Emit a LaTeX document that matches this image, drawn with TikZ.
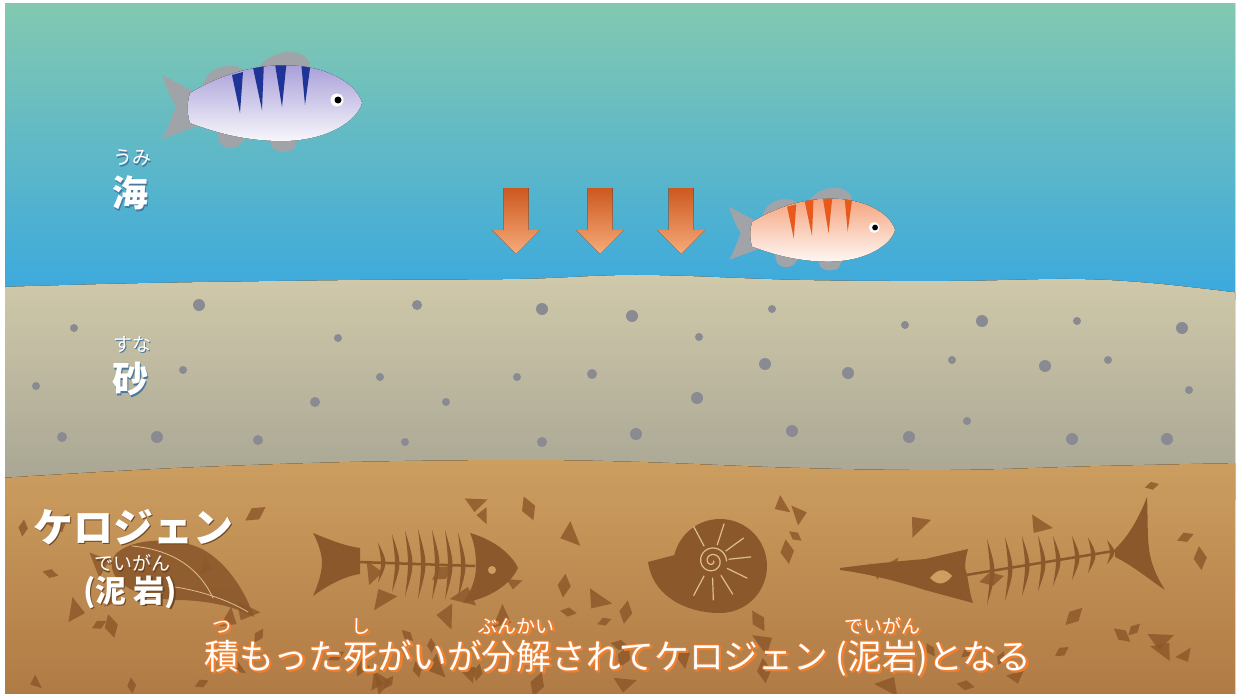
\documentclass[tikz,border=0pt]{standalone}
\usepackage{fontspec}
\newfontfamily\jp{Noto Sans CJK JP}
\usepackage{tikz}

\definecolor{seatop}{RGB}{132,201,176}
\definecolor{seamid}{RGB}{92,182,202}
\definecolor{seabot}{RGB}{58,168,222}
\definecolor{sandtop}{RGB}{208,201,170}
\definecolor{sandbot}{RGB}{165,163,146}
\definecolor{soiltop}{RGB}{204,158,96}
\definecolor{soilbot}{RGB}{176,122,68}
\definecolor{pebble}{RGB}{138,138,146}
\definecolor{flakebrown}{RGB}{140,86,40}
\definecolor{fossil}{RGB}{139,88,44}
\definecolor{fossilline}{RGB}{222,190,140}
\definecolor{fingray}{RGB}{160,164,168}
\definecolor{bluebody}{RGB}{165,155,215}
\definecolor{bluestripe}{RGB}{30,52,150}
\definecolor{redbody}{RGB}{245,160,120}
\definecolor{redstripe}{RGB}{232,90,28}
\definecolor{arrowtop}{RGB}{205,88,32}
\definecolor{arrowbot}{RGB}{246,172,122}
\definecolor{seashadow}{RGB}{70,120,160}
\definecolor{soilshadow}{RGB}{110,70,35}
\definecolor{capshadow}{RGB}{238,128,48}

% ruby over a base word
\newcommand{\rb}[2]{\leavevmode\ooalign{#1\cr\hidewidth\raisebox{36pt}{\fontsize{19}{20}\selectfont#2}\hidewidth\cr}}

% text with a soft shadow: style, shadow colour, position, name, text
\newcommand{\castnode}[5]{%
  \node[#1, text=#2] at ([shift={(1.5,1.5)}]#3) {#5};
  \node[#1] (#4) at (#3) {#5};}

% fish: position, scale, body colour, stripe colour
\newcommand{\drawfish}[4]{%
  \begin{scope}[shift={(#1)}, scale=#2]
    % tail and fins
    \fill[fin] (-62,-8) -- (-100,-28) .. controls (-95,-12) and (-88,0) .. (-86,4)
      .. controls (-90,14) and (-95,28) .. (-100,36) -- (-62,22) -- cycle;
    \fill[fin] (-60,-14) .. controls (-58,-30) and (-45,-38) .. (-28,-37)
      .. controls (-20,-36) and (-15,-30) .. (-10,-25) -- (-20,-10) -- cycle;
    \fill[fin] (-8,-28) .. controls (0,-45) and (15,-51) .. (28,-51)
      .. controls (38,-51) and (45,-46) .. (48,-40) -- (40,-20) -- cycle;
    \fill[fin] (-48,18) -- (-42,40) .. controls (-38,46) and (-28,46) .. (-22,42) -- (-12,28) -- cycle;
    \fill[fin] (5,30) -- (10,44) .. controls (14,50) and (26,50) .. (32,46) -- (38,32) -- cycle;
    % body and stripes
    \begin{scope}
      \clip (-72,-10) .. controls (-35,-32) and (5,-42) .. (45,-36)
        .. controls (80,-30) and (97,-12) .. (100,0)
        .. controls (95,18) and (65,38) .. (20,38)
        .. controls (-20,38) and (-50,28) .. (-72,20)
        .. controls (-75,10) and (-75,0) .. (-72,-10) -- cycle;
      \fill[top color=#3, bottom color=white!94!#3] (-80,-42) rectangle (102,40);
      \fill[#4] (-30,-28) -- (-19,-31) -- (-22,10) -- cycle;
      \fill[#4] (-10,-40) -- (2,-42) -- (0,7) -- cycle;
      \fill[#4] (12,-45) -- (25,-45) -- (20,4) -- cycle;
      \fill[#4] (39,-42) -- (49,-42) -- (43,2) -- cycle;
    \end{scope}
    % eye
    \fill[white] (75,-3) circle (6.5pt);
    \fill[black] (76,-3) circle (3.5pt);
  \end{scope}}

\begin{document}
\begin{tikzpicture}[x=1pt, y=-1pt,
  fin/.style={fill=fingray},
  pebbledot/.style={fill=pebble},
  flake/.style={fill=flakebrown, fill opacity=0.8},
  bone/.style={fill=fossil},
  spine/.style={draw=fossil, line width=2.5pt},
  shellline/.style={draw=fossilline, line width=1.2pt, line cap=round},
  sinkarrow/.style={top color=arrowtop, bottom color=arrowbot},
  layername/.style={font={\jp\bfseries\fontsize{36}{40}\selectfont}, text=white, inner sep=0pt},
  rubyname/.style={font={\jp\fontsize{19}{20}\selectfont}, text=white, inner sep=0pt},
  kerogen/.style={font={\jp\bfseries\fontsize{40}{44}\selectfont}, text=white, inner sep=0pt},
  mudname/.style={font={\jp\bfseries\fontsize{31}{34}\selectfont}, text=white, inner sep=0pt},
  caption/.style={font={\jp\fontsize{34.7}{38}\selectfont}, text=white, inner sep=0pt, anchor=base},
]
\useasboundingbox (0,0) rectangle (1240,696);
\fill[white] (0,0) rectangle (1240,696);

\begin{scope}
\clip (5,3) rectangle (1235,693);

% sea
\fill[top color=seatop, middle color=seamid, bottom color=seabot] (0,0) rectangle (1240,300);

% sand layer
\fill[top color=sandtop, bottom color=sandbot] plot[smooth, tension=0.6] coordinates
  {(0,287) (150,283) (360,280) (520,279) (640,275) (800,280) (950,281) (1070,279) (1150,283) (1240,293)}
  -- (1240,500) -- (0,500) -- cycle;
\foreach \x/\y/\r in {199/305/6, 74/328/4, 417/305/5, 542/309/6, 338/338/4, 36/386/4,
    183/370/4, 380/377/4, 517/377/4, 592/374/5, 315/402/5, 446/402/4, 62/437/5,
    157/437/6, 258/440/5, 405/442/4, 542/442/5, 632/316/6, 772/309/4, 699/337/4,
    905/325/4, 982/321/6, 1077/321/4, 1182/328/6, 765/364/6, 848/373/6, 952/360/4,
    1045/366/6, 1108/360/4, 1189/390/4, 697/398/6, 967/421/4, 636/434/6, 792/431/6,
    909/437/6, 1072/439/6, 1167/439/6}
  \fill[pebbledot] (\x,\y) circle (\r pt);

% soil layer
\fill[top color=soiltop, bottom color=soilbot] plot[smooth, tension=0.6] coordinates
  {(0,478) (100,472) (200,467) (350,462) (520,460) (640,462) (800,468) (950,470) (1100,466) (1240,463)}
  -- (1240,696) -- (0,696) -- cycle;
\pgfmathsetseed{12}
\foreach \i in {1,...,80}{
  \pgfmathsetmacro{\fx}{10+1220*rnd}
  \pgfmathsetmacro{\fy}{484+205*rnd}
  \pgfmathsetmacro{\fa}{360*rnd}
  \pgfmathsetmacro{\fs}{7+6*rnd}
  \ifodd\i
    \fill[flake, shift={(\fx,\fy)}, rotate=\fa] (-\fs,0) -- (0,{-0.55*\fs}) -- (\fs,0) -- (0,{0.55*\fs}) -- cycle;
  \else
    \fill[flake, shift={(\fx,\fy)}, rotate=\fa] (-\fs,{-0.7*\fs}) -- (\fs,0) -- ({-0.5*\fs},{0.8*\fs}) -- cycle;
  \fi
}

% shell
\fill[bone, opacity=0.9] (118,552) .. controls (135,538) and (175,537) .. (200,548)
  .. controls (225,560) and (245,590) .. (254,617)
  .. controls (235,606) and (205,600) .. (175,600)
  .. controls (140,598) and (115,585) .. (112,568)
  .. controls (111,560) and (114,555) .. (118,552) -- cycle;
\draw[shellline, line width=0.8pt] (132,546) .. controls (175,550) and (200,570) .. (213,598);
\draw[shellline, line width=0.8pt] (168,586) .. controls (200,590) and (228,600) .. (248,612);

% fish skeleton
\fill[bone] (313,533) .. controls (330,540) and (345,546) .. (360,548) -- (360,574)
  .. controls (345,576) and (328,585) .. (313,596)
  .. controls (318,585) and (322,572) .. (322,563)
  .. controls (322,554) and (318,542) .. (313,533) -- cycle;
\draw[spine] (358,562) -- (475,566);
\foreach \x/\h in {378/20, 392/29, 405/33, 418/35, 432/35, 445/35, 458/33}{
  \pgfmathsetmacro{\cy}{562+(\x-358)*4/117}
  \fill[bone] (\x,\cy-\h) .. controls (\x+10,\cy) .. (\x,\cy+\h) .. controls (\x+4,\cy) .. (\x,\cy-\h);
}
\fill[bone] (470,533) .. controls (495,540) and (512,555) .. (518,568)
  .. controls (510,585) and (490,598) .. (463,603)
  .. controls (472,590) and (476,578) .. (476,566)
  .. controls (476,552) and (474,542) .. (470,533) -- cycle;
\fill[soiltop] (492,570) circle (4pt);

% ammonite
\fill[bone] (720,566) circle (47pt);
\fill[bone] (690,551) -- (648,562) .. controls (652,592) and (680,612) .. (718,613) -- (720,566) -- cycle;
\draw[shellline] plot[domain=0:720, samples=80, smooth] ({712+(1.5+\x/55)*cos(\x)}, {561+(1.5+\x/55)*sin(\x)});
\foreach \a in {-118,-72,-36,-6,26,58,88,118}
  \draw[shellline] (712,561) ++(\a:17) -- ++(\a:22);

% swordfish skeleton
\fill[bone] (840,568) .. controls (870,564) and (900,561) .. (925,559) -- (968,549)
  .. controls (965,560) and (964,568) .. (967,575)
  .. controls (969,585) and (970,595) .. (973,603) -- (925,590)
  .. controls (900,582) and (870,574) .. (840,570) -- cycle;
\fill[soiltop] (930,578) .. controls (938,568) and (945,568) .. (952,576)
  .. controls (945,585) and (938,586) .. (930,578) -- cycle;
\draw[spine] (966,575) -- (1120,550);
\foreach \x/\h in {987/33, 1005/32, 1022/30, 1038/28, 1053/25, 1072/22, 1088/18, 1107/12}{
  \pgfmathsetmacro{\cy}{575-(\x-968)*25/152}
  \fill[bone] (\x,\cy-\h) .. controls (\x+10,\cy) .. (\x,\cy+\h) .. controls (\x+4,\cy) .. (\x,\cy-\h);
}
\fill[bone] (1115,549) .. controls (1130,535) and (1140,515) .. (1147,497)
  .. controls (1148,520) and (1147,540) .. (1150,555)
  .. controls (1153,570) and (1160,582) .. (1165,590)
  .. controls (1150,580) and (1132,565) .. (1115,557) -- cycle;

% fish in the sea
\drawfish{262,103}{1}{bluebody}{bluestripe}
\drawfish{812,230}{0.83}{redbody}{redstripe}

% sinking arrows
\foreach \x in {516,600,681}
  \fill[sinkarrow] ({\x-12.5},188) -- ({\x+12.5},188) -- ({\x+12.5},230) -- ({\x+24},230)
    -- (\x,254) -- ({\x-24},230) -- ({\x-12.5},230) -- cycle;
\end{scope}

% layer names
\castnode{rubyname}{seashadow}{132,158}{umiruby}{うみ}
\castnode{layername}{seashadow}{130,193}{umi}{海}
\castnode{rubyname}{seashadow}{132,344}{sunaruby}{すな}
\castnode{layername}{seashadow}{130,379}{suna}{砂}
\castnode{kerogen}{soilshadow}{133,527}{kero}{ケロジェン}
\castnode{rubyname}{soilshadow}{132,563}{deiruby}{でいがん}
\castnode{mudname}{soilshadow}{130,592}{dei}{(泥 岩)}

% caption with an orange rim
\newcommand{\captiontext}{\rb{積}{つ}もった\rb{死}{し}がいが\rb{分解}{ぶんかい}されてケロジェン (\rb{泥岩}{でいがん})となる}
\foreach \dx/\dy in {2/2, 1.5/2.5, 2.5/1.5, -0.8/0, 0.8/0, 0/-0.8, 0/0.8}
  \node[caption, text=capshadow] at ({618+\dx},{669+\dy}) {\captiontext};
\node[caption] (cap) at (618,669) {\captiontext};
\end{tikzpicture}
\end{document}
